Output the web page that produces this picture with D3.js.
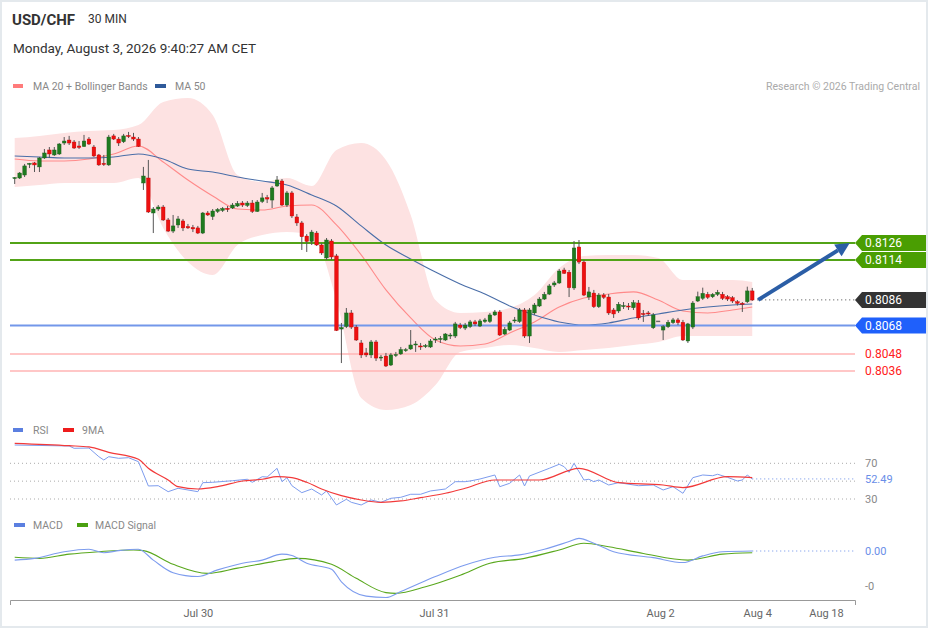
<!DOCTYPE html>
<html><head><meta charset="utf-8">
<script src="https://cdn.jsdelivr.net/npm/d3@7"></script>
<style>body{margin:0;background:#fff}svg{display:block;font-family:Roboto,"Liberation Sans",Arial,sans-serif}</style>
</head><body>
<svg id="c" width="929" height="629"></svg>
<script>
// ---------- DATA ----------
const openP=[0.81717,0.81717,0.81738,0.81816,0.81823,0.81795,0.81858,0.81914,0.81879,0.81886,0.81963,0.81984,0.81970,0.81942,0.81939,0.81991,0.81935,0.81879,0.81820,0.81809,0.82013,0.81991,0.81972,0.82016,0.82005,0.81991,0.81682,0.81717,0.81471,0.81499,0.81513,0.81422,0.81344,0.81387,0.81415,0.81376,0.81369,0.81366,0.81330,0.81471,0.81446,0.81482,0.81489,0.81504,0.81506,0.81520,0.81541,0.81524,0.81541,0.81482,0.81552,0.81579,0.81562,0.81661,0.81696,0.81527,0.81612,0.81443,0.81401,0.81309,0.81271,0.81330,0.81246,0.81155,0.81274,0.81169,0.80655,0.80673,0.80768,0.80669,0.80557,0.80487,0.80473,0.80564,0.80451,0.80465,0.80402,0.80469,0.80480,0.80508,0.80515,0.80546,0.80536,0.80536,0.80529,0.80582,0.80585,0.80578,0.80606,0.80606,0.80683,0.80662,0.80673,0.80705,0.80676,0.80708,0.80708,0.80754,0.80775,0.80620,0.80648,0.80715,0.80708,0.80789,0.80606,0.80768,0.80817,0.80866,0.80901,0.80965,0.80979,0.81070,0.81054,0.80944,0.81232,0.81126,0.80880,0.80908,0.80812,0.80894,0.80880,0.80789,0.80782,0.80817,0.80817,0.80805,0.80838,0.80764,0.80768,0.80664,0.80712,0.80648,0.80672,0.80700,0.80719,0.80702,0.80571,0.80669,0.80852,0.80871,0.80899,0.80882,0.80899,0.80899,0.80882,0.80875,0.80847,0.80836,0.80847,0.80923];
const highP=[0.81724,0.81759,0.81816,0.81823,0.81830,0.81865,0.81921,0.81935,0.81935,0.81963,0.82005,0.82013,0.81984,0.81977,0.82020,0.82005,0.81949,0.81886,0.81879,0.82020,0.82027,0.82005,0.82027,0.82041,0.82034,0.82005,0.81795,0.81844,0.81513,0.81527,0.81527,0.81436,0.81457,0.81450,0.81429,0.81394,0.81387,0.81380,0.81478,0.81485,0.81499,0.81506,0.81513,0.81520,0.81541,0.81555,0.81555,0.81555,0.81562,0.81562,0.81612,0.81598,0.81661,0.81731,0.81710,0.81626,0.81626,0.81464,0.81415,0.81323,0.81352,0.81344,0.81260,0.81295,0.81288,0.81183,0.80698,0.80803,0.80789,0.80683,0.80578,0.80522,0.80578,0.80578,0.80473,0.80487,0.80487,0.80494,0.80529,0.80522,0.80648,0.80571,0.80557,0.80550,0.80585,0.80599,0.80606,0.80627,0.80627,0.80705,0.80698,0.80698,0.80719,0.80719,0.80726,0.80733,0.80768,0.80789,0.80789,0.80669,0.80712,0.80740,0.80803,0.80803,0.80803,0.80838,0.80880,0.80916,0.80972,0.80993,0.81077,0.81086,0.81070,0.81274,0.81281,0.81141,0.80951,0.80930,0.80908,0.80908,0.80901,0.80803,0.80845,0.80845,0.80838,0.80859,0.80859,0.80789,0.80782,0.80768,0.80712,0.80683,0.80719,0.80733,0.80733,0.80719,0.80698,0.80852,0.80918,0.80946,0.80916,0.80908,0.80930,0.80916,0.80894,0.80887,0.80859,0.80845,0.80953,0.80944];
const lowP=[0.81675,0.81710,0.81724,0.81787,0.81759,0.81759,0.81851,0.81858,0.81872,0.81879,0.81949,0.81949,0.81921,0.81921,0.81935,0.81949,0.81865,0.81802,0.81802,0.81802,0.81984,0.81942,0.81963,0.81998,0.81977,0.81935,0.81633,0.81471,0.81330,0.81485,0.81415,0.81337,0.81330,0.81366,0.81344,0.81359,0.81337,0.81323,0.81323,0.81450,0.81422,0.81471,0.81478,0.81478,0.81499,0.81513,0.81513,0.81513,0.81471,0.81478,0.81541,0.81541,0.81506,0.81654,0.81520,0.81513,0.81436,0.81380,0.81211,0.81197,0.81246,0.81239,0.81176,0.81141,0.81141,0.80641,0.80416,0.80662,0.80655,0.80571,0.80451,0.80458,0.80451,0.80430,0.80430,0.80388,0.80395,0.80458,0.80473,0.80494,0.80508,0.80494,0.80508,0.80522,0.80522,0.80557,0.80557,0.80571,0.80585,0.80592,0.80655,0.80648,0.80662,0.80676,0.80669,0.80698,0.80698,0.80747,0.80606,0.80613,0.80641,0.80698,0.80698,0.80592,0.80557,0.80754,0.80810,0.80859,0.80894,0.80951,0.80972,0.81042,0.80880,0.80930,0.81112,0.80887,0.80859,0.80803,0.80803,0.80866,0.80754,0.80733,0.80768,0.80796,0.80789,0.80789,0.80719,0.80705,0.80747,0.80655,0.80712,0.80578,0.80662,0.80691,0.80683,0.80571,0.80557,0.80655,0.80845,0.80859,0.80866,0.80873,0.80887,0.80859,0.80852,0.80838,0.80820,0.80775,0.80838,0.80852];
const closeP=[0.81720,0.81752,0.81802,0.81820,0.81809,0.81858,0.81893,0.81886,0.81914,0.81956,0.81977,0.81963,0.81928,0.81932,0.81977,0.81956,0.81872,0.81809,0.81812,0.82005,0.81991,0.81963,0.82013,0.82013,0.81991,0.81939,0.81731,0.81478,0.81499,0.81513,0.81422,0.81344,0.81380,0.81429,0.81366,0.81366,0.81359,0.81330,0.81471,0.81457,0.81485,0.81496,0.81503,0.81496,0.81527,0.81538,0.81527,0.81541,0.81482,0.81548,0.81577,0.81569,0.81647,0.81703,0.81527,0.81612,0.81450,0.81401,0.81304,0.81271,0.81337,0.81246,0.81190,0.81281,0.81162,0.80645,0.80666,0.80768,0.80669,0.80578,0.80473,0.80473,0.80564,0.80451,0.80458,0.80395,0.80473,0.80476,0.80511,0.80510,0.80543,0.80550,0.80529,0.80539,0.80571,0.80585,0.80589,0.80620,0.80613,0.80691,0.80666,0.80683,0.80705,0.80691,0.80712,0.80719,0.80754,0.80775,0.80613,0.80653,0.80698,0.80719,0.80789,0.80606,0.80789,0.80824,0.80866,0.80899,0.80958,0.80979,0.81063,0.81047,0.80946,0.81225,0.81126,0.80894,0.80916,0.80812,0.80894,0.80878,0.80768,0.80761,0.80829,0.80820,0.80814,0.80840,0.80733,0.80761,0.80764,0.80754,0.80712,0.80672,0.80702,0.80719,0.80700,0.80578,0.80691,0.80838,0.80882,0.80906,0.80878,0.80899,0.80913,0.80871,0.80866,0.80852,0.80836,0.80831,0.80923,0.80859];

// Bollinger / moving averages sampled at candle indices
const maIdx=[0,5,10,15,20,25,30,35,40,45,50,55,60,65,70,75,80,85,90,95,100,105,110,115,120,125,130,135,140,145,149];
const bbUpper=[0.81998,0.82013,0.82034,0.82048,0.82055,0.82090,0.82252,0.82280,0.82160,0.81738,0.81689,0.81717,0.81661,0.81914,0.81963,0.81844,0.81457,0.80859,0.80768,0.80775,0.80803,0.80894,0.81084,0.81169,0.81176,0.81176,0.81155,0.81000,0.81000,0.81000,0.80986];
const ma20=[0.81851,0.81837,0.81837,0.81851,0.81886,0.81942,0.81830,0.81703,0.81591,0.81499,0.81492,0.81520,0.81527,0.81387,0.81176,0.80930,0.80733,0.80578,0.80536,0.80550,0.80627,0.80705,0.80810,0.80873,0.80901,0.80916,0.80859,0.80782,0.80768,0.80789,0.80810];
const bbLower=[0.81654,0.81668,0.81682,0.81682,0.81682,0.81717,0.81366,0.81126,0.81035,0.81246,0.81316,0.81337,0.81316,0.80859,0.80170,0.80086,0.80121,0.80262,0.80494,0.80522,0.80543,0.80522,0.80494,0.80508,0.80522,0.80543,0.80564,0.80606,0.80606,0.80606,0.80606];
const ma50=[0.81872,0.81865,0.81858,0.81858,0.81865,0.81886,0.81851,0.81780,0.81759,0.81724,0.81696,0.81668,0.81598,0.81520,0.81380,0.81246,0.81148,0.81056,0.80972,0.80901,0.80817,0.80754,0.80705,0.80683,0.80698,0.80733,0.80761,0.80789,0.80810,0.80824,0.80831];

// Key levels
const resistLevels=[0.8126,0.8114];
const currentPrice=0.8086;
const pivotLevel=0.8068;
const supportLevels=[0.8048,0.8036];

// RSI and its 9-period MA
const rsiIdx=[0,11,12,15,17,18,19,21,23,25,27,29,31,33,37,38,40,44,47,48,50,51,53,54,55,56,58,60,62,63,65,67,68,70,72,74,76,78,80,82,84,87,89,91,92,94,97,98,100,102,103,104,108,110,111,112,113,115,116,117,118,120,122,126,129,131,133,135,137,139,141,142,144,146,147,148,149];
const rsiVal=[90.5,89.4,86.8,87.1,77.4,73.7,77.4,75.6,76.3,71.8,44.6,44.9,38.2,42.0,38.2,48.3,48.7,50.5,52.1,48.7,55.0,54.6,64.4,49.4,53.9,44.9,37.1,41.2,34.5,39.0,23.3,29.7,26.3,23.3,28.9,26.3,30.8,31.9,35.3,35.3,39.0,41.2,49.4,49.4,50.2,52.4,56.9,43.8,47.6,56.9,44.6,55.8,64.4,68.9,66.2,59.9,70.0,51.3,52.1,49.4,51.3,45.7,48.3,44.9,45.7,40.1,43.8,36.4,53.9,56.9,56.1,57.7,54.3,50.2,51.3,56.9,52.49];
const rsiMaIdx=[0,11,15,19,25,27,31,33,37,41,46,50,53,56,59,62,66,70,74,78,82,87,91,97,106,114,122,131,135,144,149];
const rsiMaVal=[92.4,89.7,88.3,82.3,74.5,64.4,51.3,43.8,41.2,43.8,50.2,52.1,55.0,53.9,48.7,41.2,33.7,28.9,26.3,27.8,31.5,36.4,42.0,51.3,51.3,64.4,48.3,45.7,42.7,55.0,53.9];
const rsiTicks=[70,30];
const rsiGrid=[70,50,30];
const rsiLast=52.49;

// MACD
const macdIdx=[0,4,10,15,18,21,25,28,32,37,41,46,50,54,56,59,64,66,71,75,78,85,91,97,102,107,112,114,117,121,129,135,139,143,149];
const macdVal=[-0.00026,-0.00021,-0.00002,0.00005,-0.00005,0.00001,0.00005,-0.00026,-0.00062,-0.00073,-0.00054,-0.00035,-0.00026,-0.00009,-0.00013,-0.00035,-0.00052,-0.00088,-0.00129,-0.00133,-0.00116,-0.00073,-0.00040,-0.00018,-0.00011,0.00005,0.00027,0.00036,0.00022,-0.00002,-0.00019,-0.00033,-0.00014,-0.00002,0.00000];
const sigIdx=[0,5,11,17,24,26,32,39,45,52,57,64,69,75,77,83,90,96,103,110,115,120,127,136,143,149];
const sigVal=[-0.00018,-0.00021,-0.00009,-0.00002,0.00003,0.00001,-0.00038,-0.00064,-0.00049,-0.00031,-0.00021,-0.00038,-0.00078,-0.00119,-0.00121,-0.00102,-0.00069,-0.00035,-0.00021,0.00003,0.00022,0.00012,-0.00007,-0.00026,-0.00009,-0.00005];
const macdTicks=[0,-0.001];
const macdTickLabels=["0.00","-0"];

// X axis
const xTickPos=[37,84.7,130.4,150,163.9];
const xTickLabels=["Jul 30","Jul 31","Aug 2","Aug 4","Aug 18"];

// Arrow (projection)
const arrowIdx=[150.2,168.7];
const arrowPrice=[0.8086,0.8126];

// ---------- DRAW ----------
const svg=d3.select('#c');
const x=d3.scaleLinear().domain([-0.95,169.76]).range([10,855]);
const y=d3.scaleLinear().domain([0.8036,0.8126]).range([371,243]);
const yR=d3.scaleLinear().domain([30,70]).range([499,463.3]);
const yM=d3.scaleLinear().domain([-0.001,0]).range([586,551]);

// border
svg.append('rect').attr('x',1).attr('y',1).attr('width',926).attr('height',626)
  .attr('fill','#fff').attr('stroke','#e4e9ed').attr('stroke-width',2);

// header
svg.append('text').attr('x',12).attr('y',25).attr('font-size',15).attr('font-weight','bold').attr('fill','#333').text('USD/CHF');
svg.append('text').attr('x',88).attr('y',23).attr('font-size',12).attr('fill','#333').text('30 MIN');
svg.append('text').attr('x',13).attr('y',53).attr('font-size',13.5).attr('fill','#333').text('Monday, August 3, 2026 9:40:27 AM CET');

function legend(items,yy){
  items.forEach(it=>{
    svg.append('rect').attr('x',it.rx).attr('y',yy-2).attr('width',it.rw).attr('height',4).attr('fill',it.c);
    svg.append('text').attr('x',it.tx).attr('y',yy+4).attr('font-size',10.5).attr('fill','#888').text(it.t);
  });
}
legend([{rx:13,rw:10,c:'#ff7b7b',tx:33,t:'MA 20 + Bollinger Bands'},{rx:155,rw:11,c:'#2f5a9a',tx:175,t:'MA 50'}],86);
svg.append('text').attr('x',920).attr('y',90).attr('text-anchor','end').attr('font-size',10.5).attr('fill','#aaa').text('Research © 2026 Trading Central');

// Bollinger band area
const maPts=maIdx.map((d,k)=>({i:d,u:bbUpper[k],l:bbLower[k],m:ma20[k],m50:ma50[k]}));
svg.append('path').datum(maPts)
  .attr('d',d3.area().x(d=>x(d.i)).y0(d=>y(d.l)).y1(d=>y(d.u)).curve(d3.curveMonotoneX))
  .attr('fill','#fde2e2');
svg.append('path').datum(maPts)
  .attr('d',d3.line().x(d=>x(d.i)).y(d=>y(d.m)).curve(d3.curveMonotoneX))
  .attr('fill','none').attr('stroke','#ff8a8a').attr('stroke-width',1.1);
svg.append('path').datum(maPts)
  .attr('d',d3.line().x(d=>x(d.i)).y(d=>y(d.m50)).curve(d3.curveMonotoneX))
  .attr('fill','none').attr('stroke','#4a6ea8').attr('stroke-width',1.1);

// level lines
resistLevels.forEach(p=>{
  svg.append('line').attr('x1',10).attr('x2',855).attr('y1',y(p)).attr('y2',y(p)).attr('stroke','#52a317').attr('stroke-width',2);
});
svg.append('line').attr('x1',10).attr('x2',855).attr('y1',y(pivotLevel)).attr('y2',y(pivotLevel)).attr('stroke','#7397ea').attr('stroke-width',2);
supportLevels.forEach(p=>{
  svg.append('line').attr('x1',10).attr('x2',855).attr('y1',y(p)).attr('y2',y(p)).attr('stroke','#ffb4b4').attr('stroke-width',1.5);
});

// candles
const cw=3.6;
const candles=d3.range(openP.length).map(i=>({i,o:openP[i],h:highP[i],l:lowP[i],c:closeP[i]}));
const g=svg.append('g');
g.selectAll('line.w').data(candles).join('line')
  .attr('x1',d=>x(d.i)).attr('x2',d=>x(d.i)).attr('y1',d=>y(d.h)).attr('y2',d=>y(d.l))
  .attr('stroke','#555').attr('stroke-width',1);
g.selectAll('rect.b').data(candles).join('rect')
  .attr('x',d=>x(d.i)-cw/2).attr('width',cw)
  .attr('y',d=>y(Math.max(d.o,d.c)))
  .attr('height',d=>Math.max(1,Math.abs(y(d.o)-y(d.c))))
  .attr('fill',d=>d.c>d.o?'#1f7a1f':(d.c<d.o?'#ee1010':'#666'))
  .attr('stroke',d=>d.c>d.o?'#1a5c1a':(d.c<d.o?'#c00000':'#666')).attr('stroke-width',0.4);

// current price dotted line
const lastX=x(openP.length-1);
svg.append('line').attr('x1',lastX+5).attr('x2',855).attr('y1',y(currentPrice)).attr('y2',y(currentPrice))
  .attr('stroke','#444').attr('stroke-width',1).attr('stroke-dasharray','1,3');

// arrow
{
  const x1=x(arrowIdx[0]),y1=y(arrowPrice[0]),x2=x(arrowIdx[1]),y2=y(arrowPrice[1]);
  const ang=Math.atan2(y2-y1,x2-x1),hl=14,hw=7;
  const bx=x2-hl*Math.cos(ang),by=y2-hl*Math.sin(ang);
  svg.append('line').attr('x1',x1).attr('y1',y1).attr('x2',bx).attr('y2',by).attr('stroke','#2b5ea6').attr('stroke-width',4);
  const px=-Math.sin(ang),py=Math.cos(ang);
  svg.append('polygon').attr('points',[[x2,y2],[bx+px*hw,by+py*hw],[bx-px*hw,by-py*hw]].map(p=>p.join(',')).join(' '))
    .attr('fill','#2b5ea6');
}

// tags
function tag(p,col,txt){
  const yy=y(p);
  svg.append('polygon').attr('points',`855,${yy} 862,${yy-8} 926,${yy-8} 926,${yy+8} 862,${yy+8}`).attr('fill',col);
  svg.append('text').attr('x',865).attr('y',yy+4.3).attr('font-size',12).attr('fill','#fff').text(txt);
}
resistLevels.forEach(p=>tag(p,'#4a9e02',p.toFixed(4)));
tag(currentPrice,'#333',currentPrice.toFixed(4));
tag(pivotLevel,'#1f60fb',pivotLevel.toFixed(4));
supportLevels.forEach(p=>{
  svg.append('text').attr('x',865).attr('y',y(p)+4.3).attr('font-size',12).attr('fill','#ff2020').text(p.toFixed(4));
});

// RSI panel
legend([{rx:13,rw:10,c:'#5b7fe0',tx:33,t:'RSI'},{rx:63,rw:11,c:'#ee1c1c',tx:82,t:'9MA'}],430);
rsiGrid.forEach(v=>{
  svg.append('line').attr('x1',10).attr('x2',855).attr('y1',yR(v)).attr('y2',yR(v)).attr('stroke','#aaa').attr('stroke-dasharray','1,3');
});
rsiTicks.forEach(v=>{
  svg.append('text').attr('x',865).attr('y',yR(v)+4).attr('font-size',11).attr('fill','#888').text(v);
});
svg.append('line').attr('x1',lastX).attr('x2',855).attr('y1',yR(rsiLast)).attr('y2',yR(rsiLast)).attr('stroke','#6a8ee8').attr('stroke-dasharray','1,3');
svg.append('text').attr('x',865).attr('y',yR(rsiLast)+4).attr('font-size',11).attr('fill','#6a8ee8').text(rsiLast.toFixed(2));
svg.append('path').datum(rsiIdx.map((d,k)=>[x(d),yR(rsiVal[k])]))
  .attr('d',d3.line()).attr('fill','none').attr('stroke','#7d9cee').attr('stroke-width',1);
svg.append('path').datum(rsiMaIdx.map((d,k)=>[x(d),yR(rsiMaVal[k])]))
  .attr('d',d3.line().curve(d3.curveMonotoneX)).attr('fill','none').attr('stroke','#f23a3a').attr('stroke-width',1.2);

// MACD panel
legend([{rx:14,rw:11,c:'#5b7fe0',tx:33,t:'MACD'},{rx:77,rw:11,c:'#4aa010',tx:95,t:'MACD Signal'}],525);
svg.append('line').attr('x1',lastX).attr('x2',855).attr('y1',yM(0)).attr('y2',yM(0)).attr('stroke','#6a8ee8').attr('stroke-dasharray','1,3');
macdTicks.forEach((v,k)=>{
  svg.append('text').attr('x',865).attr('y',yM(v)+4).attr('font-size',11).attr('fill',k===0?'#6a8ee8':'#888').text(macdTickLabels[k]);
});
svg.append('path').datum(sigIdx.map((d,k)=>[x(d),yM(sigVal[k])]))
  .attr('d',d3.line().curve(d3.curveMonotoneX)).attr('fill','none').attr('stroke','#5aa81e').attr('stroke-width',1.1);
svg.append('path').datum(macdIdx.map((d,k)=>[x(d),yM(macdVal[k])]))
  .attr('d',d3.line().curve(d3.curveMonotoneX)).attr('fill','none').attr('stroke','#7d9cee').attr('stroke-width',1.1);

// X axis
const ax=svg.append('g').attr('transform','translate(0,600)')
  .call(d3.axisBottom(x).tickValues(xTickPos).tickFormat((d,k)=>xTickLabels[k]).tickSizeInner(0).tickSizeOuter(5).tickPadding(9));
ax.select('.domain').attr('stroke','#999');
ax.selectAll('text').attr('font-size',11).attr('fill','#666').attr('font-family','Roboto,"Liberation Sans",Arial,sans-serif');
</script>
</body></html>
